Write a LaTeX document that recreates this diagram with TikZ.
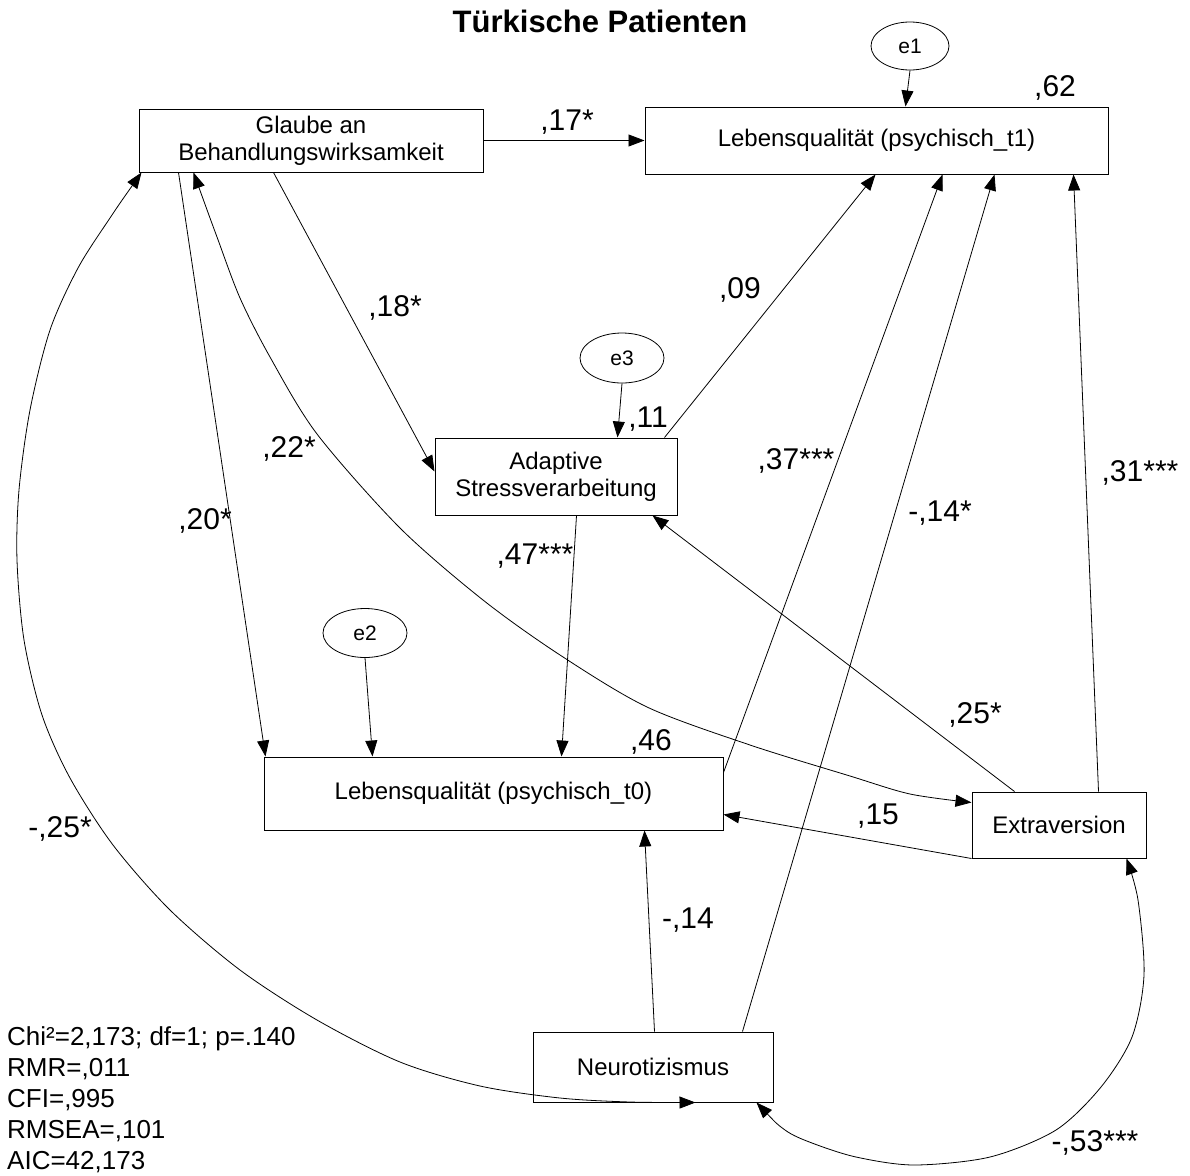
\documentclass[tikz,border=0pt]{standalone}
\usepackage{fontspec}
\setmainfont{Liberation Sans}
\usetikzlibrary{arrows.meta,shapes.geometric,calc}
\begin{document}
\begin{tikzpicture}[x=1pt,y=-1pt,
  var/.style={draw,line width=1pt,inner sep=0pt,align=center,font=\fontsize{24}{27}\selectfont},
  err/.style={draw,ellipse,line width=0.8pt,inner sep=0pt,font=\fontsize{21}{24}\selectfont},
  coef/.style={font=\fontsize{30}{33}\selectfont,inner sep=0pt,anchor=base},
  tip/.tip={Triangle[length=16pt,width=12pt]},
  causal/.style={line width=0.8pt,-tip},
  cov/.style={line width=0.8pt,tip-tip},
]
\useasboundingbox (0,0) rectangle (1190,1175);

% title
\node[font=\fontsize{31}{34}\selectfont\bfseries,anchor=base,inner sep=0pt] (title) at (600,32) {Türkische Patienten};

% observed variables
\node[var,minimum width=344pt,minimum height=63pt] (glaube) at (311,140.5) {Glaube an\\Behandlungswirksamkeit};
\node[var,minimum width=463pt,minimum height=67pt] (lq1) at (876.5,140.5) {Lebensqualität (psychisch\_t1)};
\node[var,minimum width=242pt,minimum height=77pt] (adapt) at (556,476.5) {Adaptive\\Stressverarbeitung};
\node[var,minimum width=459pt,minimum height=73pt] (lq0) at (493.5,793.5) {Lebensqualität (psychisch\_t0)};
\node[var,minimum width=174pt,minimum height=66pt] (extra) at (1059,825) {Extraversion};
\node[var,minimum width=240pt,minimum height=70pt] (neuro) at (653,1067) {Neurotizismus};

% residuals
\node[err,minimum width=78pt,minimum height=48pt] (e1) at (910,46) {e1};
\node[err,minimum width=84pt,minimum height=49pt] (e2) at (365,633) {e2};
\node[err,minimum width=84pt,minimum height=50pt] (e3) at (622,358) {e3};

% regression paths
\draw[causal] (glaube.east) -- (lq1.west);
\draw[causal] ($(glaube.south west)+(135,0)$) -- ($(adapt.north west)+(0,34)$);
\draw[causal] ($(glaube.south west)+(40,0)$) -- ($(lq0.north west)+(2,0)$);
\draw[causal] ($(adapt.north west)+(230,0)$) -- ($(lq1.south west)+(231,0)$);
\draw[causal] ($(adapt.south west)+(142,0)$) -- ($(lq0.north west)+(298,0)$);
\draw[causal] ($(extra.north west)+(43,0)$) -- ($(adapt.south east)+(-25,0)$);
\draw[causal] (extra.south west) -- ($(lq0.north east)+(0,58)$);
\draw[causal] ($(extra.north west)+(127,0)$) -- ($(lq1.south west)+(429,0)$);
\draw[causal] ($(neuro.north west)+(122,0)$) -- ($(lq0.south west)+(381,0)$);
\draw[causal] ($(neuro.north west)+(210,0)$) -- ($(lq1.south west)+(350,0)$);
\draw[causal] ($(lq0.north east)+(0,16)$) -- ($(lq1.south west)+(298,0)$);
\draw[causal] (e1.south) -- ($(lq1.north west)+(261,0)$);
\draw[causal] (e2.south) -- ($(lq0.north west)+(109,0)$);
\draw[causal] (e3.south) -- ($(adapt.north west)+(183,0)$);

% covariances
\coordinate (g22) at ($(glaube.south west)+(55,0)$);
\coordinate (x22) at ($(extra.north west)+(0,11)$);
\draw[cov] plot[smooth] coordinates {(g22) (217,237) (240,298) (270,357) (317,434) (400,528) (483,600) (560,655) (647,707) (750,745) (850,776) (910,794) (x22)};

\coordinate (g25) at ($(glaube.south west)+(3,0)$);
\coordinate (n25) at ($(neuro.south west)+(163,0)$);
\draw[cov] plot[smooth] coordinates {(g25) (110,218) (78,268) (50,330) (30,410) (19,490) (17,560) (24,640) (42,715) (70,778) (113,845) (170,910) (240,970) (317,1020) (400,1062) (480,1086) (560,1098) (630,1102) (n25)};

\coordinate (n53) at ($(neuro.south east)+(-17,0)$);
\coordinate (x53) at ($(extra.south east)+(-20,0)$);
\draw[cov] plot[smooth] coordinates {(n53) (785,1130) (812,1143) (856,1157) (914,1165) (990,1157) (1056,1130) (1101,1087) (1132,1037) (1144,975) (1138,900) (x53)};

% coefficients
\node[coef] (c1) at (567,130) {,17*};
\node[coef] (c2) at (1055,96) {,62};
\node[coef] (c3) at (395,316) {,18*};
\node[coef] (c4) at (740,298) {,09};
\node[coef] (c5) at (648,427) {,11};
\node[coef] (c6) at (289,457) {,22*};
\node[coef] (c7) at (205,529) {,20*};
\node[coef] (c8) at (796,469) {,37***};
\node[coef] (c9) at (1140,481) {,31***};
\node[coef] (c10) at (940,521) {-,14*};
\node[coef] (c11) at (535,564) {,47***};
\node[coef] (c12) at (975,723) {,25*};
\node[coef] (c13) at (651,750) {,46};
\node[coef] (c14) at (878,824) {,15};
\node[coef] (c15) at (688,928) {-,14};
\node[coef] (c16) at (60,837) {-,25*};
\node[coef] (c17) at (1095,1151) {-,53***};

% fit statistics
\node[anchor=north west,inner sep=0pt,align=left,font=\fontsize{26}{31}\selectfont] (fit) at (7,1026)
  {Chi²=2,173; df=1; p=.140\\RMR=,011\\CFI=,995\\RMSEA=,101\\AIC=42,173};
\end{tikzpicture}
\end{document}
